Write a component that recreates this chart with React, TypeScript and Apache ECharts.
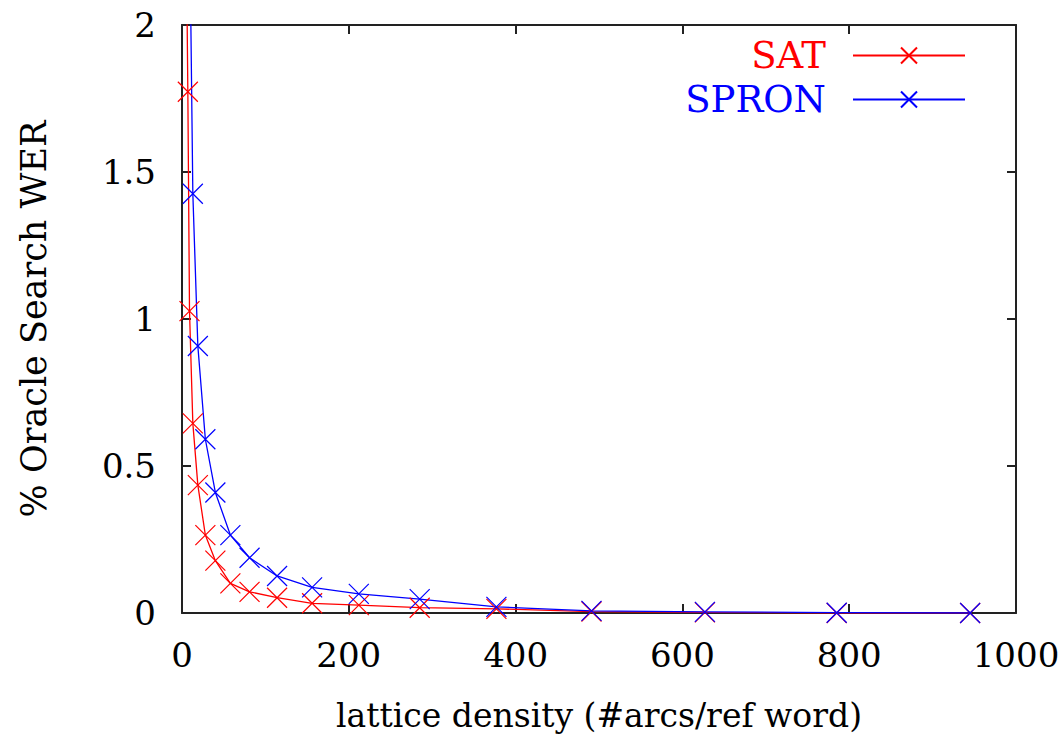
import React, { useEffect, useRef } from "react";
import * as echarts from "echarts";

const xValues = [5, 7, 9, 13, 19, 28, 40, 58, 81, 114, 156, 212, 285, 377, 491, 627, 785, 945];
const satValues = [2.35, 1.773, 1.027, 0.645, 0.435, 0.265, 0.178, 0.101, 0.072, 0.052, 0.033, 0.027, 0.018, 0.014, 0.005, 0.002, 0.0, 0.0];
const spronValues = [4.5, 3.3, 2.4, 1.426, 0.908, 0.591, 0.41, 0.265, 0.188, 0.126, 0.087, 0.065, 0.047, 0.021, 0.007, 0.004, 0.001, 0.0];
const seriesNames = ["SAT", "SPRON"];
const seriesColors = ["#ff0000", "#0000ff"];

const FONT = "DejaVu Serif";
const CROSS = "path://M0,0L20,20M20,0L0,20";

export default function App() {
  const ref = useRef<HTMLDivElement>(null);

  useEffect(() => {
    if (!ref.current) return;
    const chart = echarts.init(ref.current, undefined, { renderer: "svg" });
    const axisLine = { show: true, onZero: false, lineStyle: { color: "#222", width: 2 } };
    const axisTick = { show: true, inside: true, length: 9, lineStyle: { color: "#222", width: 2 } };
    const allSeries = [satValues, spronValues].map((vals, i) => ({
      name: seriesNames[i],
      type: "line",
      data: xValues.map((x, j) => [x, vals[j]]),
      symbol: CROSS,
      symbolSize: 20,
      showSymbol: true,
      clip: true,
      lineStyle: { color: seriesColors[i], width: 1.3 },
      itemStyle: { color: seriesColors[i], borderColor: seriesColors[i], borderWidth: 1.2 },
      emphasis: { disabled: true },
    }));
    chart.setOption({
      animation: false,
      backgroundColor: "#ffffff",
      textStyle: { fontFamily: FONT },
      grid: { left: 182, right: 47, top: 25, bottom: 129, containLabel: false },
      legend: {
        orient: "vertical",
        right: 92,
        top: 32,
        align: "right",
        itemWidth: 112,
        itemHeight: 20,
        itemGap: 7,
        selectedMode: false,
        data: seriesNames.map((n, i) => ({
          name: n,
          textStyle: { color: seriesColors[i], fontFamily: FONT, fontSize: 37 },
        })),
        textStyle: { fontFamily: FONT, fontSize: 37, padding: [0, 22, 0, 0] },
      },
      xAxis: [
        {
          type: "value",
          position: "bottom",
          min: 0,
          max: 1000,
          interval: 200,
          name: "lattice density (#arcs/ref word)",
          nameLocation: "middle",
          nameGap: 86,
          nameTextStyle: { fontFamily: FONT, fontSize: 33, color: "#000" },
          axisLine,
          axisTick,
          splitLine: { show: false },
          axisLabel: {
            fontFamily: FONT,
            fontSize: 34,
            color: "#000",
            margin: 25,
            formatter: (v: number) => String(v),
          },
        },
        {
          type: "value",
          position: "top",
          min: 0,
          max: 1000,
          interval: 200,
          axisLine,
          axisTick,
          splitLine: { show: false },
          axisLabel: { show: false },
        },
      ],
      yAxis: [
        {
          type: "value",
          position: "left",
          min: 0,
          max: 2,
          interval: 0.5,
          name: "% Oracle Search WER",
          nameLocation: "middle",
          nameGap: 131,
          nameTextStyle: { fontFamily: FONT, fontSize: 35, color: "#000" },
          axisLine,
          axisTick,
          splitLine: { show: false },
          axisLabel: {
            fontFamily: FONT,
            fontSize: 34,
            color: "#000",
            margin: 26,
            formatter: (v: number) => String(v),
          },
        },
        {
          type: "value",
          position: "right",
          min: 0,
          max: 2,
          interval: 0.5,
          axisLine,
          axisTick,
          splitLine: { show: false },
          axisLabel: { show: false },
        },
      ],
      series: allSeries,
    });
    return () => chart.dispose();
  }, []);

  return (
    <div
      ref={ref}
      style={{ position: "fixed", left: 0, top: 0, width: 1063, height: 742, background: "#fff" }}
    />
  );
}
